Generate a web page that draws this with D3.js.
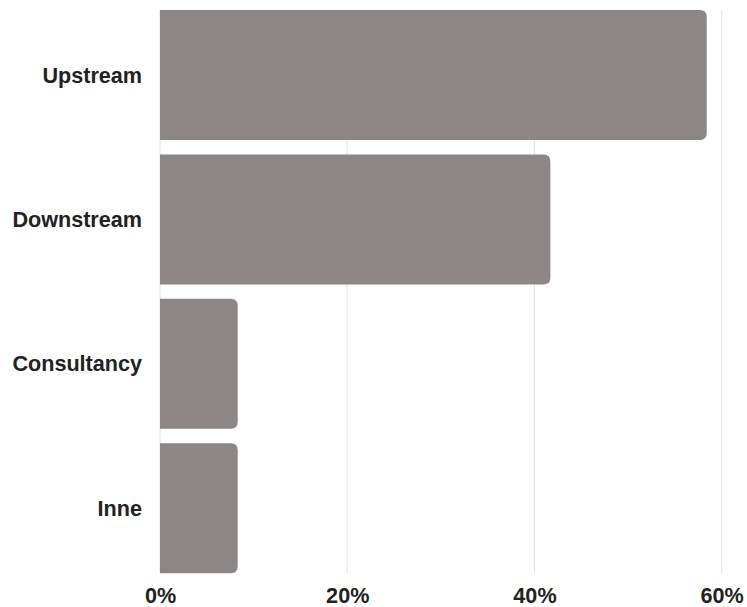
<!DOCTYPE html>
<html lang="en">
<head>
    <meta charset="UTF-8">
    <title>Chart</title>
    <script src="https://d3js.org/d3.v7.min.js"></script>
    <style>
        body { margin: 0; background: #fff; }
        svg { display: block; font-family: "Liberation Sans", Arial, sans-serif; }
    </style>
</head>
<body>
    <svg id="chart" width="747" height="607"></svg>
    <script>
        const categories = ["Upstream", "Downstream", "Consultancy", "Inne"];
        const values = [0.584, 0.417, 0.083, 0.083];
        const tickValues = [0, 0.2, 0.4, 0.6];

        const svg = d3.select("#chart");
        const plotLeft = 160, plotRight = 721.7, plotTop = 10, plotBottom = 573.3;

        const x = d3.scaleLinear().domain([0, 0.6]).range([plotLeft, plotRight]);
        const y = d3.scaleBand().domain(categories).range([plotTop, plotBottom]).paddingInner(0.1).paddingOuter(0);

        // gridlines
        svg.append("g")
            .selectAll("line")
            .data(tickValues)
            .enter().append("line")
            .attr("x1", d => x(d)).attr("x2", d => x(d))
            .attr("y1", plotTop).attr("y2", plotBottom)
            .attr("stroke", "#e3e3e3")
            .attr("stroke-width", 1);

        // bars, rounded on the right side only
        const r = 7;
        svg.append("g")
            .selectAll("path")
            .data(categories.map((c, i) => ({ cat: c, value: values[i] })))
            .enter().append("path")
            .attr("d", d => {
                const x0 = x(0), x1 = x(d.value), y0 = y(d.cat), h = y.bandwidth();
                return `M${x0},${y0}H${x1 - r}Q${x1},${y0} ${x1},${y0 + r}V${y0 + h - r}Q${x1},${y0 + h} ${x1 - r},${y0 + h}H${x0}Z`;
            })
            .attr("fill", "#8c8686");

        // category labels
        svg.append("g")
            .selectAll("text")
            .data(categories)
            .enter().append("text")
            .attr("x", 142)
            .attr("y", d => y(d) + y.bandwidth() / 2)
            .attr("dy", "0.35em")
            .attr("text-anchor", "end")
            .attr("font-size", 21.6)
            .attr("font-weight", "bold")
            .attr("fill", "#222")
            .text(d => d);

        // x axis labels
        const xAxis = d3.axisBottom(x)
            .tickValues(tickValues)
            .tickFormat(d3.format(".0%"))
            .tickSize(0)
            .tickPadding(0);
        const gx = svg.append("g")
            .attr("transform", `translate(0,${plotBottom + 14})`)
            .call(xAxis);
        gx.select(".domain").remove();
        gx.selectAll("text")
            .attr("font-size", 21.6)
            .attr("font-weight", "bold")
            .attr("font-family", "Liberation Sans, Arial, sans-serif")
            .attr("fill", "#222");
    </script>
</body>
</html>
